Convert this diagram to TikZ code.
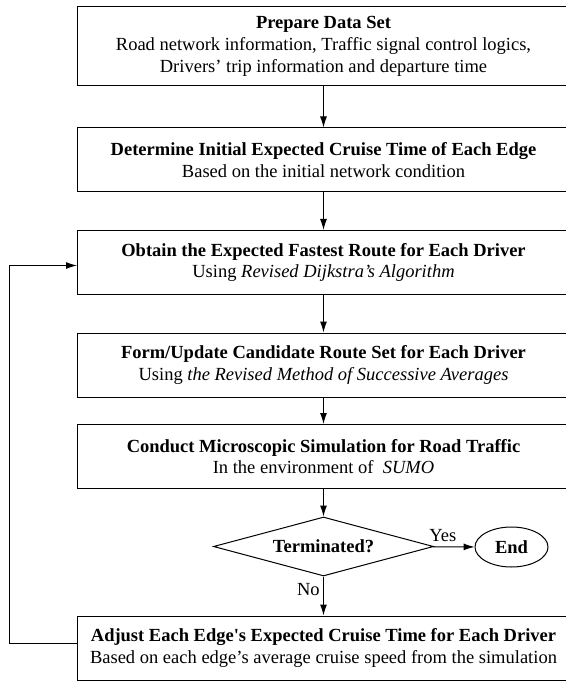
\documentclass[tikz,border=0pt]{standalone}
\usepackage{fontspec}
\setmainfont{Liberation Serif}
\usetikzlibrary{shapes.geometric,arrows.meta}

\tikzset{
  txt/.style={font=\fontsize{18.5}{21.7}\selectfont},
  stepbox/.style={txt,draw,line width=1pt,minimum width=492pt,minimum height=64pt,inner sep=0pt,align=center},
  testbox/.style={txt,draw,diamond,aspect=3.7,line width=1pt,minimum width=220pt,minimum height=59pt,inner sep=0pt},
  endbox/.style={txt,draw,ellipse,line width=1pt,minimum width=73pt,minimum height=40pt,inner sep=0pt},
  flow/.style={->,line width=1pt}
}

\begin{document}
\begin{tikzpicture}[x=1pt,y=-1pt,>={Latex[length=11pt,width=7pt]}]
\useasboundingbox (0,0) rectangle (565,684);
% steps
\node[stepbox,minimum height=79pt] (prep) at (323.5,46.5) {\textbf{Prepare Data Set}\\Road network information, Traffic signal control logics,\\Drivers’ trip information and departure time};
\node[stepbox] (init) at (323.5,160) {\textbf{Determine Initial Expected Cruise Time of Each Edge}\\Based on the initial network condition};
\node[stepbox] (route) at (323.5,262.5) {\textbf{Obtain the Expected Fastest Route for Each Driver}\\Using \textit{Revised Dijkstra’s Algorithm}};
\node[stepbox] (cand) at (323.5,365) {\textbf{Form/Update Candidate Route Set for Each Driver}\\Using \textit{the Revised Method of Successive Averages}};
\node[stepbox] (sim) at (323.5,456.5) {\textbf{Conduct Microscopic Simulation for Road Traffic}\\In the environment of~ \textit{SUMO}};
\node[testbox] (term) at (323.5,546.5) {\textbf{Terminated?}};
\node[endbox] (end) at (511.5,547) {\textbf{End}};
\node[stepbox] (adj) at (323.5,648) {\textbf{Adjust Each Edge\textquotesingle s Expected Cruise Time for Each Driver}\\Based on each edge’s average cruise speed from the simulation};
% connectors
\draw[flow] (prep) -- (init);
\draw[flow] (init) -- (route);
\draw[flow] (route) -- (cand);
\draw[flow] (cand) -- (sim);
\draw[flow] (sim) -- (term);
\draw[flow] (term) -- (end) node[txt,pos=0.24,above=1pt] {Yes};
\draw[flow] (term) -- (adj) node[txt,pos=0.33,left] {No};
\draw[flow] ([yshift=5pt]adj.west) -- ++(-68,0) |- ([yshift=-3pt]route.west);
\end{tikzpicture}
\end{document}
